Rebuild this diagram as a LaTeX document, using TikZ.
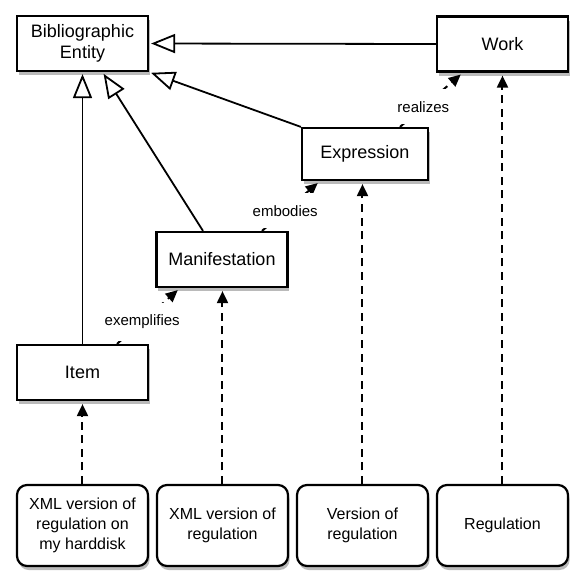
\documentclass[tikz,border=0pt]{standalone}
\usepackage{fontspec}
\setmainfont{Liberation Sans}
\usetikzlibrary{arrows.meta,shadows}

\begin{document}
\begin{tikzpicture}[x=0.5pt,y=-0.5pt,
    caja/.style={draw,line width=1.1pt,fill=white,align=center,
        minimum width=65.5pt,minimum height=27.5pt,inner sep=2pt,
        font=\fontsize{9}{10.5}\selectfont,
        drop shadow={shadow xshift=0.8pt,shadow yshift=-2pt,opacity=0.45,fill=black!60}},
    ejemplar/.style={caja,rounded corners=5pt,minimum height=40.5pt,
        font=\fontsize{8}{10}\selectfont},
    gen/.style={line width=0.9pt,-{Triangle[fill=white,length=12pt,width=9.5pt]},shorten >=1pt},
    dep/.style={line width=1pt,dash pattern=on 4pt off 2.8pt,-{Triangle[length=6pt,width=5.5pt]},shorten >=1.5pt},
    etiq/.style={fill=white,inner xsep=8pt,inner ysep=6pt,font=\fontsize{7.5}{9}\selectfont}]

    \def\ybase{525.5}

    \useasboundingbox (0,0) rectangle (571,575);

    %Cajas FRBR
    \node[caja] (be) at (82.5,43.5) {Bibliographic\\Entity};
    \node[caja] (work) at (502.5,44) {Work};
    \node[caja,minimum width=63pt,minimum height=26pt] (expr) at (365,154) {Expression};
    \node[caja] (man) at (222,259.5) {Manifestation};
    \node[caja] (item) at (82.5,372.5) {Item};

    %Ejemplos
    \foreach \i/\x/\t in {1/82.5/{XML version of\\regulation on\\my harddisk},
                          2/222.5/{XML version of\\regulation},
                          3/362.5/{Version of\\regulation},
                          4/502.5/{Regulation}}{
        \node[ejemplar] (r\i) at (\x,\ybase) {\t};
    }

    %Generalizacion
    \draw[gen] (work.west) -- (be.east);
    \draw[gen] (item.north) -- (be.south);
    \draw[gen] ([xshift=-9.5pt]man.north) -- ([xshift=10pt]be.south);
    \draw[gen] (expr.north west) -- (be.south east);

    %Dependencias
    \draw[dep] ([xshift=17.25pt]item.north) -- node[etiq,pos=0.4]{exemplifies} ([xshift=-21pt]man.south);
    \draw[dep] ([xshift=20pt]man.north) -- node[etiq,pos=0.4]{embodies} ([xshift=-22.5pt]expr.south);
    \draw[dep] ([xshift=17.5pt]expr.north) -- node[etiq,pos=0.37]{realizes} ([xshift=-19.75pt]work.south);

    \foreach \i/\d in {1/item,2/man,3/expr,4/work}{
        \draw[dep] (r\i.north) -- (r\i.north |- \d.south);
    }

\end{tikzpicture}
\end{document}
